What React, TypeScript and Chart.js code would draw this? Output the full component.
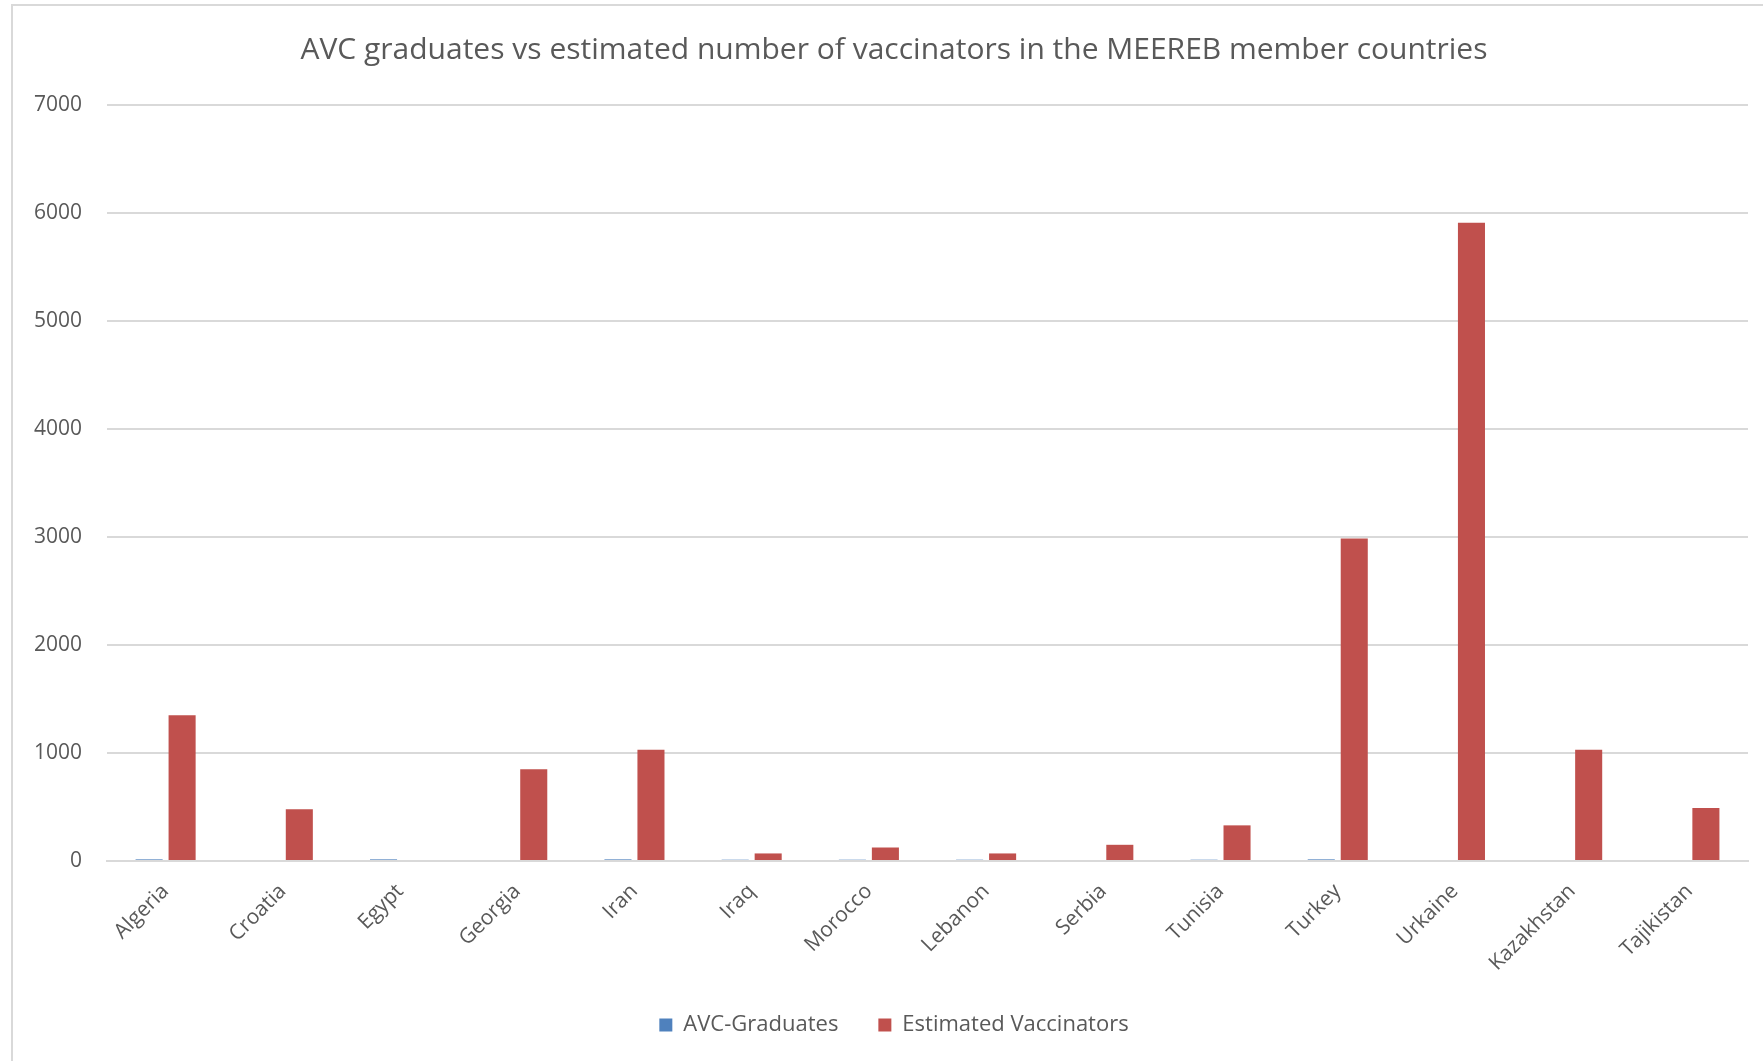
import React, { useEffect, useRef } from "react";
import { Chart, registerables } from "chart.js";

Chart.register(...registerables);

const chartTitle =
  "AVC graduates vs estimated number of vaccinators in the MEEREB member countries";
const categories = [
  "Algeria",
  "Croatia",
  "Egypt",
  "Georgia",
  "Iran",
  "Iraq",
  "Morocco",
  "Lebanon",
  "Serbia",
  "Tunisia",
  "Turkey",
  "Urkaine",
  "Kazakhstan",
  "Tajikistan",
];
const avcGraduates = [15, 0, 15, 0, 15, 12, 12, 12, 0, 12, 15, 0, 0, 0];
const estimatedVaccinators = [1350, 480, 0, 850, 1030, 70, 125, 70, 150, 330, 2985, 5910, 1030, 490];
const yMin = 0;
const yMax = 7000;
const yStep = 1000;

const FONT = '"Open Sans", "DejaVu Sans", sans-serif';
const TEXT = "#595959";
const GRID = "#d9d9d9";

// Widen the label clip areas of the axes after layout so that
// rotated category labels and y tick labels are not cut off.
const unclipLabels = {
  id: "unclipLabels",
  afterLayout(chart: any) {
    const x = chart.scales.x;
    const y = chart.scales.y;
    if (x) x.bottom = chart.height;
    if (y) y.left = 0;
  },
};

export default function App() {
  const ref = useRef<HTMLCanvasElement | null>(null);

  useEffect(() => {
    document.body.style.margin = "0";
    const canvas = ref.current;
    if (!canvas) return;
    const chart = new Chart(canvas, {
      type: "bar",
      data: {
        labels: categories,
        datasets: [
          {
            label: "AVC-Graduates",
            data: avcGraduates,
            backgroundColor: "#4F81BD",
            categoryPercentage: 0.563,
            barPercentage: 0.82,
          },
          {
            label: "Estimated Vaccinators",
            data: estimatedVaccinators,
            backgroundColor: "#C0504D",
            categoryPercentage: 0.563,
            barPercentage: 0.82,
          },
        ],
      },
      plugins: [unclipLabels],
      options: {
        animation: false,
        responsive: false,
        devicePixelRatio: 1,
        layout: { padding: { left: 40, right: 15, top: 0, bottom: 15 } },
        plugins: {
          title: {
            display: true,
            text: chartTitle,
            color: TEXT,
            font: { family: FONT, size: 30, weight: "normal" },
            padding: { top: 32, bottom: 37 },
          },
          legend: {
            position: "bottom",
            labels: {
              boxWidth: 13,
              boxHeight: 13,
              color: TEXT,
              padding: 40,
              font: { family: FONT, size: 22 },
            },
          },
          tooltip: { enabled: false },
        },
        scales: {
          x: {
            grid: { display: false, drawTicks: false },
            border: { display: true, color: GRID, width: 2 },
            ticks: {
              maxRotation: 45,
              minRotation: 45,
              autoSkip: false,
              color: TEXT,
              padding: 18,
              font: { family: FONT, size: 21 },
            },
            afterFit: (s: any) => {
              s.height = 113;
            },
          },
          y: {
            min: yMin,
            max: yMax,
            ticks: {
              stepSize: yStep,
              color: TEXT,
              padding: 25,
              font: { family: FONT, size: 21 },
              callback: (v: any) => String(v),
            },
            grid: { color: GRID, lineWidth: 2, drawTicks: false },
            border: { display: false },
            afterFit: (s: any) => {
              s.width = 67;
            },
          },
        },
      },
    });
    return () => chart.destroy();
  }, []);

  return (
    <div
      style={{
        position: "relative",
        width: 1763,
        height: 1061,
        overflow: "hidden",
        background: "#ffffff",
      }}
    >
      <div
        style={{
          position: "absolute",
          left: 11,
          top: 4,
          width: 1800,
          height: 1100,
          border: "2px solid #d9d9d9",
        }}
      />
      <canvas
        ref={ref}
        width={1763}
        height={1061}
        style={{ position: "absolute", left: 0, top: 0 }}
      />
    </div>
  );
}
